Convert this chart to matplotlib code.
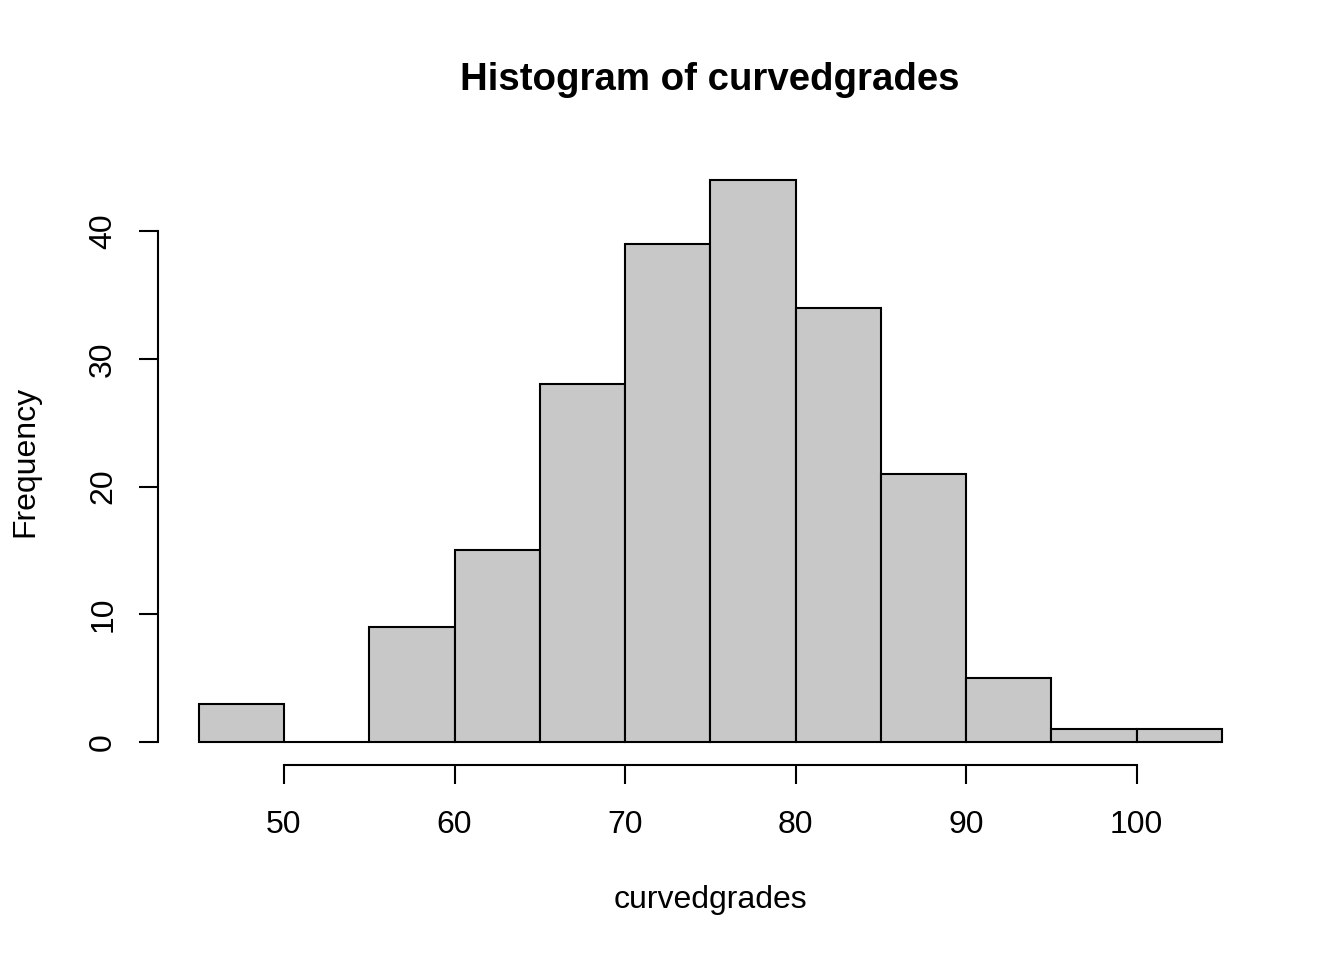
import numpy as np
import matplotlib
matplotlib.use("Agg")
import matplotlib.pyplot as plt

# Histogram data (bin edges and counts)
bin_edges = [45, 50, 55, 60, 65, 70, 75, 80, 85, 90, 95, 100, 105]
counts = [3, 0, 9, 15, 28, 39, 44, 34, 21, 5, 1, 1]
x_ticks = [50, 60, 70, 80, 90, 100]
y_ticks = [0, 10, 20, 30, 40]

plt.rcParams['font.family'] = ['Liberation Sans', 'DejaVu Sans']
fs = 23

fig = plt.figure(figsize=(13.44, 9.6), dpi=100)
ax = fig.add_axes([0.1174, 0.2036, 0.8223, 0.6324])

left = np.array(bin_edges[:-1])
widths = np.diff(bin_edges)
ax.bar(left, counts, width=widths, align='edge', color='#C8C8C8',
       edgecolor='black', linewidth=1.5)

# R-style 4% axis extension
xr = bin_edges[-1] - bin_edges[0]
ax.set_xlim(bin_edges[0] - 0.04 * xr, bin_edges[-1] + 0.04 * xr)
ymax = max(counts)
ax.set_ylim(-0.04 * ymax, ymax * 1.04)

for s in ['top', 'right']:
    ax.spines[s].set_visible(False)
ax.spines['left'].set_bounds(y_ticks[0], y_ticks[-1])
ax.spines['bottom'].set_bounds(x_ticks[0], x_ticks[-1])
ax.spines['left'].set_linewidth(1.5)
ax.spines['bottom'].set_linewidth(1.5)

ax.set_xticks(x_ticks)
ax.set_xticklabels([str(v) for v in x_ticks], fontsize=fs)
ax.set_yticks(y_ticks)
ax.set_yticklabels([str(v) for v in y_ticks], fontsize=fs, rotation=90, va='center')
ax.tick_params(axis='both', length=14, width=1.5, direction='out')
ax.tick_params(axis='x', pad=18.5)
ax.tick_params(axis='y', pad=14.5)

ax.set_xlabel('curvedgrades', fontsize=fs, va='center')
ax.xaxis.set_label_coords(0.5, -0.223)
ax.set_ylabel('Frequency', fontsize=fs, va='center')
ax.yaxis.set_label_coords(-0.1202, 0.5)
fig.suptitle('Histogram of curvedgrades', fontsize=27.6, fontweight='bold',
             x=0.528, y=0.9167, va='center')

fig.savefig('out.png', dpi=100)
